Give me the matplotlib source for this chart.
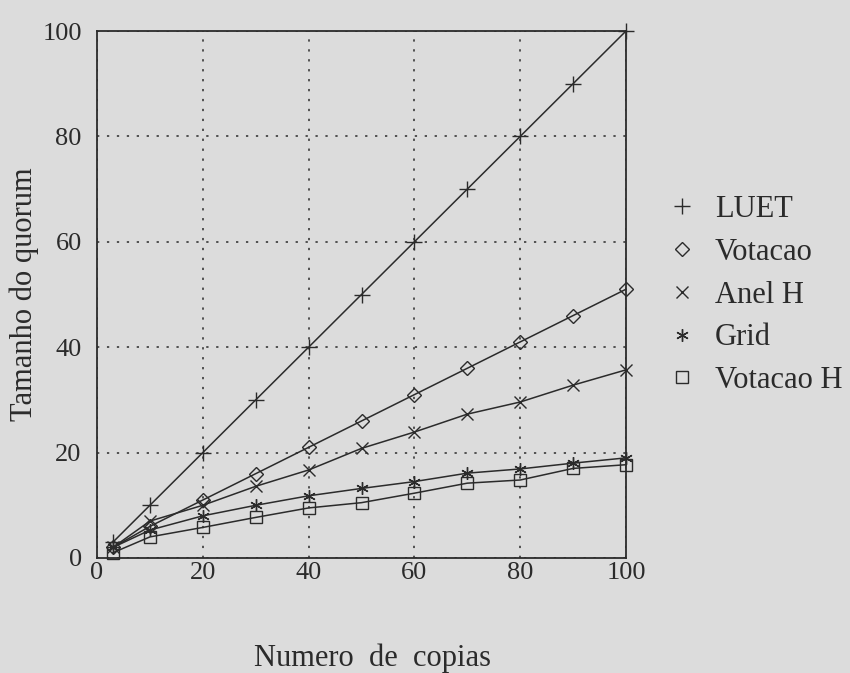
import matplotlib
matplotlib.use("Agg")
import matplotlib.pyplot as plt
from matplotlib.lines import Line2D

# numero de copias
copias = [3, 10, 20, 30, 40, 50, 60, 70, 80, 90, 100]

# tamanho do quorum
luet = [3, 10, 20, 30, 40, 50, 60, 70, 80, 90, 100]
votacao = [2, 6, 11, 16, 21, 26, 31, 36, 41, 46, 51]
anel_h = [2, 7, 10, 13.6, 16.7, 20.8, 23.9, 27.3, 29.6, 32.8, 35.7]
grid = [2, 5.3, 8, 10, 11.8, 13.2, 14.5, 16.1, 16.9, 18, 19]
votacao_h = [1, 4, 5.8, 7.7, 9.5, 10.5, 12.3, 14.2, 14.8, 17, 17.7]

series = ["LUET", "Votacao", "Anel H", "Grid", "Votacao H"]
ticks = [0, 20, 40, 60, 80, 100]

ink = "#2b2b2b"
paper = "#dcdcdc"

plt.rcParams["font.family"] = ["Liberation Serif", "DejaVu Serif"]

fig = plt.figure(figsize=(8.5, 6.73), dpi=100, facecolor=paper)
ax = fig.add_axes([97 / 850, 1 - 558 / 673, 529 / 850, 527 / 673])
ax.set_facecolor(paper)

# marker styles per series
styles = [
    dict(marker="+", markersize=12, mew=1.0),
    dict(marker="D", markersize=7, mew=1.0, mfc="none"),
    dict(marker="x", markersize=9, mew=1.0),
    dict(marker=(6, 2, 0), markersize=9, mew=1.0),
    dict(marker="s", markersize=9, mew=1.0, mfc="none"),
]
data = [luet, votacao, anel_h, grid, votacao_h]

for vals, st in zip(data, styles):
    ax.plot(copias, vals, color=ink, lw=1.1, mec=ink, clip_on=False, zorder=3, **st)

ax.set_xlim(0, 100)
ax.set_ylim(0, 100)
ax.set_xticks(ticks)
ax.set_yticks(ticks)
ax.tick_params(length=0, labelsize=19, colors=ink)
ax.tick_params(axis="x", pad=3)
ax.tick_params(axis="y", pad=11)
for sp in ax.spines.values():
    sp.set_color(ink)
    sp.set_linewidth(1.3)

ax.grid(True, color=ink, linestyle=(0, (1.5, 5)), linewidth=1.1)

ax.set_xlabel("Numero  de  copias", fontsize=22, color=ink)
ax.set_ylabel("Tamanho do quorum", fontsize=22, color=ink)
ax.xaxis.set_label_coords(0.52, -0.163)
ax.yaxis.set_label_coords(-0.11, 0.5)

handles = [Line2D([], [], color=ink, linestyle="none", mec=ink, **st) for st in styles]
ax.legend(handles, series, loc="upper left", bbox_to_anchor=(667 / 850, 1 - 195 / 673),
          bbox_transform=fig.transFigure, frameon=False, fontsize=22,
          handlelength=1.0, handletextpad=0.57, labelspacing=0.45, borderpad=0,
          borderaxespad=0, labelcolor=ink)

fig.savefig("out.png", dpi=100, facecolor=paper)
